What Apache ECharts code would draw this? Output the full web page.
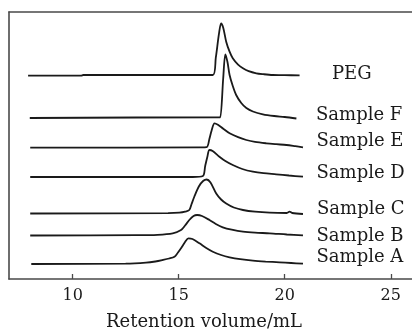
<!DOCTYPE html>
<html>
<head>
<meta charset="utf-8">
<script src="https://cdn.jsdelivr.net/npm/echarts@6/dist/echarts.min.js"></script>
<style>
  html, body { margin: 0; padding: 0; background: #fff; }
  #chart { width: 412px; height: 329px; }
</style>
</head>
<body>
<div id="chart"></div>
<script>
// sample names, bottom to top
const sampleNames = ['Sample A', 'Sample B', 'Sample C', 'Sample D', 'Sample E', 'Sample F', 'PEG'];
// vertical offset of each trace baseline (stacked chromatograms)
const baselineOffsets = [15, 43.5, 65.5, 102, 131.3, 161, 203.3];
const xTicks = [10, 15, 20, 25];

// retention volume (mL) and detector signal for each trace
const sampleAX = [8.05, 12.5, 13.46, 13.9, 14.25, 14.55, 14.8, 14.95, 15.11, 15.3, 15.46, 15.65, 15.98, 16.3, 16.61, 17.0, 17.4, 17.9, 18.5, 19.1, 19.76, 20.3, 20.86];
const sampleAY = [0, 0.3, 1.3, 2.5, 4, 5.5, 7.3, 11, 15.7, 22, 25.7, 25, 20.7, 16, 12.3, 9, 6.7, 4.8, 3.3, 2.4, 1.7, 1, 0.3];

const sampleBX = [8.0, 13.0, 14.0, 14.72, 15.11, 15.3, 15.5, 15.7, 15.87, 16.1, 16.45, 16.75, 17.08, 17.5, 18.03, 18.6, 19.29, 20.1, 20.86];
const sampleBY = [0, 0.3, 0.7, 2.2, 5.5, 10, 15.5, 19.5, 20.5, 19.5, 15.5, 11.5, 8.2, 5.8, 3.8, 2.8, 2.2, 1, 0.2];

const sampleCX = [8.0, 14.5, 15.03, 15.3, 15.5, 15.6, 15.74, 15.95, 16.15, 16.32, 16.5, 16.77, 17.0, 17.24, 17.6, 18.03, 18.6, 19.29, 20.1, 20.23, 20.35, 20.86];
const sampleCY = [0, 0.3, 0.8, 1.8, 3.5, 9, 17, 27, 32.5, 34, 31, 20, 14, 10, 6, 3.5, 1.8, 0.8, 0.5, 1.8, 0.5, -0.5];

const sampleDX = [8.0, 15.66, 16.14, 16.25, 16.35, 16.45, 16.6, 16.92, 17.2, 17.55, 18.0, 18.5, 19.0, 19.6, 20.2, 20.86];
const sampleDY = [0, 0, 1, 11, 20, 27, 26, 20.3, 16, 12, 8, 5.3, 3.8, 2.7, 1.5, 0.3];

const sampleEX = [8.0, 16.0, 16.32, 16.45, 16.55, 16.69, 16.85, 17.1, 17.4, 17.8, 18.19, 18.6, 19.13, 19.6, 20.08, 20.5, 20.86];
const sampleEY = [0, 0.3, 0.5, 9, 17, 24.4, 23, 19, 14.4, 10.5, 7.7, 5.8, 4.4, 3.5, 2.7, 1.5, 0.4];

const sampleFX = [7.98, 16.9, 16.96, 17.1, 17.2, 17.3, 17.4, 17.55, 17.71, 17.95, 18.19, 18.5, 18.97, 19.5, 20.0, 20.55];
const sampleFY = [0, 0.7, 0.7, 40, 63.7, 56, 43, 32, 23, 15, 10, 6.5, 3.7, 2, 1, -0.5];

const pegX = [7.9, 10.4, 10.5, 16.61, 16.75, 16.9, 17.0, 17.1, 17.24, 17.4, 17.55, 17.8, 18.03, 18.3, 18.66, 19.0, 19.43, 20.0, 20.7];
const pegY = [0, 0, 0.7, 0.7, 18, 42, 52.4, 48, 34, 24, 17.4, 11, 7.4, 4.5, 2.4, 1.5, 0.7, 0.5, 0.4];

const traceX = [sampleAX, sampleBX, sampleCX, sampleDX, sampleEX, sampleFX, pegX];
const traceY = [sampleAY, sampleBY, sampleCY, sampleDY, sampleEY, sampleFY, pegY];

// label anchor (left x, middle y) for each trace name
const labelPos = [[316.5, 259.3], [316.5, 237.7], [317, 210.7], [316.5, 175], [316.5, 142.7], [316, 116.7], [332, 76]];

const serifFont = '"DejaVu Serif", "Liberation Serif", serif';
const frameColor = '#4a4a4a';

const series = sampleNames.map((name, i) => ({
    type: 'line',
    name: name,
    data: traceX[i].map((x, k) => [x, traceY[i][k] + baselineOffsets[i]]),
    showSymbol: false,
    smooth: 0.3,
    lineStyle: { color: '#1a1a1a', width: 1.8 },
    silent: true
}));

const labels = sampleNames.map((name, i) => ({
    type: 'text',
    left: labelPos[i][0],
    top: labelPos[i][1] - 10.5,
    style: { text: name, font: '18px ' + serifFont, fill: '#1a1a1a' }
}));

const option = {
    animation: false,
    grid: { left: 9, top: 12, width: 404, height: 267 },
    xAxis: [{
        type: 'value',
        min: 7,
        max: 26,
        axisLine: { show: true, lineStyle: { color: frameColor, width: 1.6 } },
        axisTick: { show: true, inside: true, length: 5, customValues: xTicks, lineStyle: { color: frameColor, width: 1.3 } },
        axisLabel: { customValues: xTicks, margin: 9, fontFamily: serifFont, fontSize: 16, color: '#1a1a1a' },
        splitLine: { show: false }
    }, {
        type: 'value',
        position: 'top',
        min: 7,
        max: 26,
        axisLine: { show: true, lineStyle: { color: frameColor, width: 1.6 } },
        axisTick: { show: false },
        axisLabel: { show: false },
        splitLine: { show: false }
    }],
    yAxis: {
        type: 'value',
        min: 0,
        max: 267,
        axisLine: { show: true, lineStyle: { color: frameColor, width: 1.6 } },
        axisTick: { show: false },
        axisLabel: { show: false },
        splitLine: { show: false }
    },
    graphic: labels.concat([{
        type: 'text',
        x: 204,
        y: 322,
        style: {
            text: 'Retention volume/mL',
            font: '18px ' + serifFont,
            fill: '#1a1a1a',
            align: 'center',
            verticalAlign: 'middle'
        }
    }]),
    series: series
};

const chart = echarts.init(document.getElementById('chart'));
chart.setOption(option);
</script>
</body>
</html>
